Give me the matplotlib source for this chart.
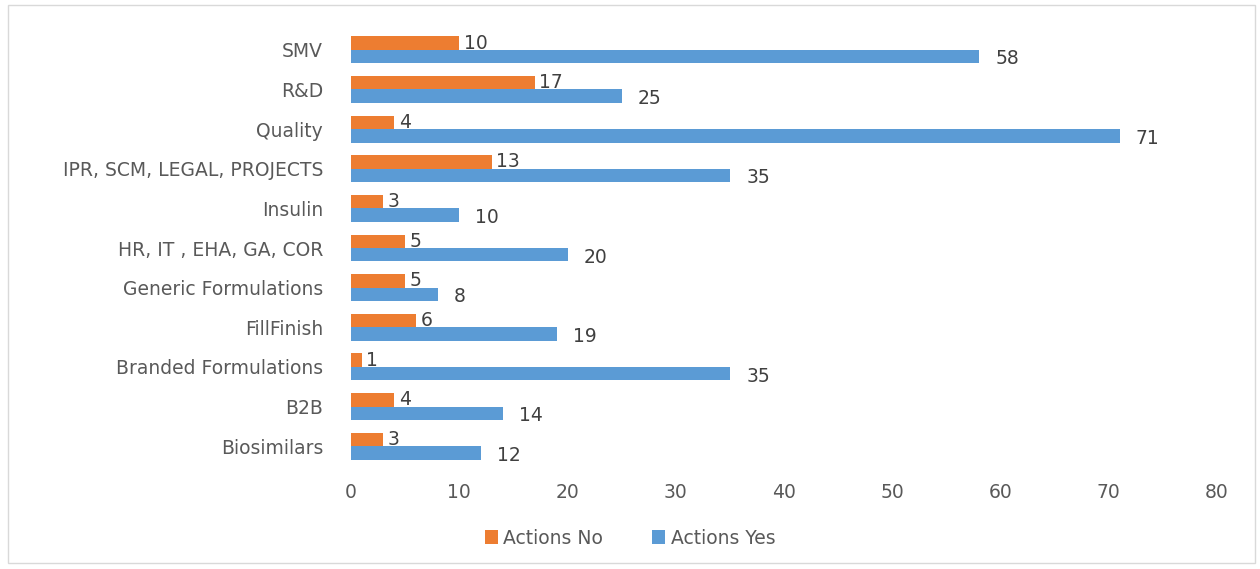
import matplotlib
matplotlib.use("Agg")
import matplotlib.pyplot as plt
import numpy as np
from matplotlib.patches import Rectangle

categories = ["Biosimilars", "B2B", "Branded Formulations", "FillFinish",
              "Generic Formulations", "HR, IT , EHA, GA, COR", "Insulin",
              "IPR, SCM, LEGAL, PROJECTS", "Quality", "R&D", "SMV"]
actions_no = [3, 4, 1, 6, 5, 5, 3, 13, 4, 17, 10]
actions_yes = [12, 14, 35, 19, 8, 20, 10, 35, 71, 25, 58]
x_ticks = [0, 10, 20, 30, 40, 50, 60, 70, 80]

orange = "#ED7D31"
blue = "#5B9BD5"
plt.rcParams['font.family'] = ['DejaVu Sans']
fs = 13.5

fig = plt.figure(figsize=(12.6, 5.69), dpi=100)
ax = fig.add_axes([351/1260, 1 - 466/569, (1217-351)/1260, (466-30)/569])

y = np.arange(len(categories))
h = 0.34
ax.barh(y + h/2, actions_no, height=h, color=orange, label="Actions No")
ax.barh(y - h/2, actions_yes, height=h, color=blue, label="Actions Yes")

for yi, v in zip(y, actions_no):
    ax.text(v + 0.4, yi + h/2 + 0.0, str(v), va="center", ha="left",
            fontsize=fs, color="#404040")
for yi, v in zip(y, actions_yes):
    ax.text(v + 1.5, yi - h/2 - 0.06, str(v), va="center", ha="left",
            fontsize=fs, color="#404040")

ax.set_xlim(0, 80)
ax.set_ylim(-0.5, len(categories) - 0.5)
ax.set_xticks(x_ticks)
ax.set_xticklabels([str(t) for t in x_ticks])
ax.set_yticks(y)
ax.set_yticklabels(categories)
ax.tick_params(axis="both", length=0, labelsize=fs, labelcolor="#595959")
ax.tick_params(axis="x", pad=12)
ax.tick_params(axis="y", pad=20)
for s in ax.spines.values():
    s.set_visible(False)

handles, labels = ax.get_legend_handles_labels()
fig.legend(handles, labels, loc="center", bbox_to_anchor=(0.5, 1 - 538/569),
           ncol=2, frameon=False, fontsize=fs, handlelength=0.7,
           handleheight=0.7, handletextpad=0.3, columnspacing=2.6,
           labelcolor="#595959")

fig.patches.append(Rectangle((8/1260, 1 - 563/569), (1255-8)/1260, (563-5)/569,
                             transform=fig.transFigure, fill=False,
                             edgecolor="#D9D9D9", linewidth=1))

fig.savefig("out.png", dpi=100, facecolor="white")
